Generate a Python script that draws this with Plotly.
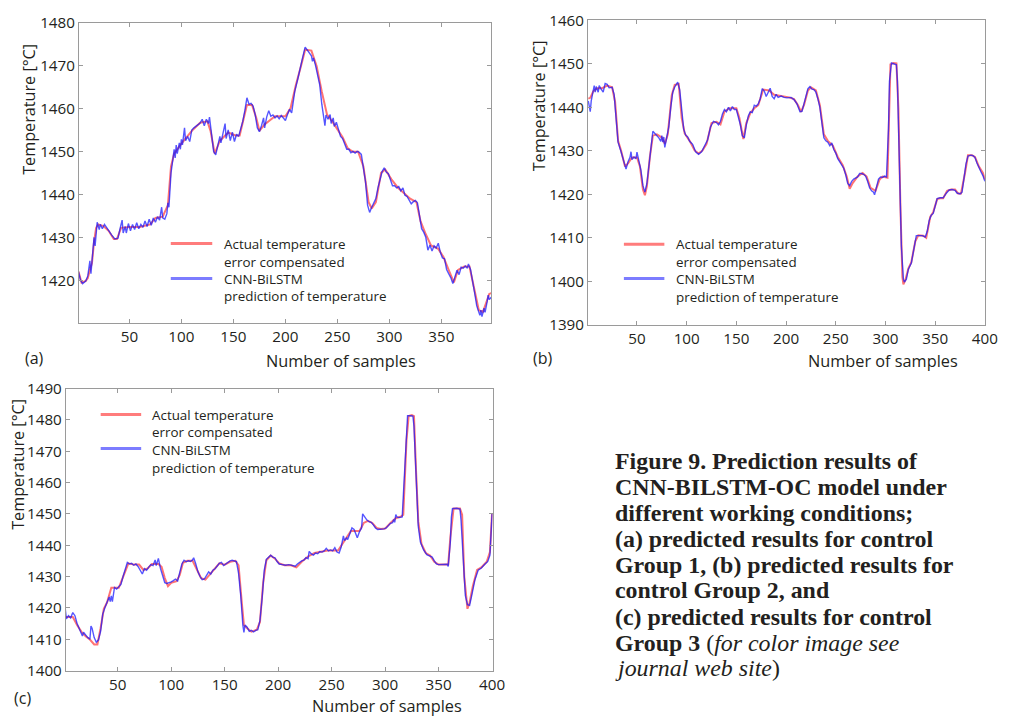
import plotly.graph_objects as go

# ---------------- data ----------------
# Panel (a): control group 1
a_actual = [(1,1422.0),(4,1419.4),(8,1419.8),(10,1420.5),(12,1422.4),(14,1424),(16,1429),(18,1432.2),(20,1433),(25,1432.6),
            (30,1431.5),(35,1429.6),(38,1429.6),(42,1432.2),(50,1432.4),(60,1432.4),(70,1433),(75,1434.5),(82,1434.8),(87,1437.5),
            (90,1446.5),(93,1449.5),(100,1451.8),(110,1454.8),(118,1456.7),(125,1457),(128,1454.8),(132,1449.5),(137,1452.5),(145,1454.4),
            (152,1453.7),(156,1453.7),(160,1457.8),(163,1460.8),(168,1460.8),(172,1457.8),(175,1454.8),(180,1456.3),(190,1458.2),(200,1458.2),
            (205,1460.1),(210,1465.4),(215,1469.9),(219,1473.7),(225,1473.5),(230,1469.9),(235,1463.9),(240,1458.6),(245,1457),(250,1455.2),
            (255,1453.3),(260,1450.7),(265,1449.9),(270,1449.9),(275,1446.5),(280,1438.2),(283,1436.7),(287,1438.2),(292,1445),(296,1445.8),
            (302,1443.5),(308,1441.6),(315,1440.1),(320,1439),(326,1438.2),(330,1433.7),(335,1430.7),(340,1428.1),(347,1427.3),(352,1425.4),
            (357,1422.4),(362,1419.5),(366,1422.4),(372,1423.2),(377,1423.2),(382,1417.9),(386,1413),(390,1412.6),(393,1414.9),(396,1416.8),(398,1417)]
a_predicted = [(1,1422),(3,1420),(5,1419.2),(8,1419.8),(10,1421),(12,1424.5),(13,1421.5),(14,1425),(15,1427),(16,1430),(17,1428),(18,1432),
               (19,1433.5),(21,1431.8),(22,1433),(24,1432),(26,1433),(28,1432.3),(30,1431.5),(33,1430.5),(36,1429.6),(39,1429.8),(41,1432),
               (43,1434),(44,1431),(46,1432.5),(47,1431),(49,1433.2),(51,1431.5),(53,1433),(55,1431.8),(57,1433.4),(59,1432),(61,1433),
               (63,1432.3),(65,1433.8),(67,1432.5),(69,1434.2),(71,1432.8),(73,1434.5),(75,1433.5),(77,1434.8),(79,1434),(80,1435.5),
               (81,1437),(82,1434.5),(84,1434.2),(86,1435.5),(87,1438),(88,1437),(90,1445),(92,1448.5),(93,1450.5),(94,1448.5),
               (95,1451.5),(96,1449.5),(98,1452),(99,1450.5),(100,1452.8),(101,1451.5),(103,1455.5),(104,1452.5),(106,1453.5),(108,1452.3),
               (110,1455),(112,1455.5),(115,1456),(118,1456.6),(120,1457.5),(122,1456),(124,1457.5),(126,1456.5),(127,1458),(129,1454),
               (131,1450),(133,1449.2),(135,1451.5),(137,1453.5),(138,1452),(140,1454.5),(142,1456.5),(143,1453),(145,1455),(147,1452.5),
               (149,1454.5),(151,1452.3),(153,1454),(155,1453.5),(157,1455),(159,1457),(161,1459.5),(163,1462.5),(165,1461),(167,1461.2),
               (169,1460.5),(171,1458.5),(173,1455.5),(175,1454.6),(177,1456),(179,1457.8),(180,1455.5),(182,1458),(184,1459.5),(186,1458.2),
               (188,1458.5),(190,1457.8),(192,1458.3),(194,1457.6),(196,1458.4),(198,1457.8),(200,1457.2),(202,1458.6),(204,1459.8),(206,1459),
               (207,1460.8),(209,1464),(212,1467),(215,1470.5),(217,1472.3),(219,1474.3),(221,1473.6),(223,1473),(225,1472.3),(226,1471),
               (227,1471.8),(229,1470),(231,1468),(233,1465.5),(235,1461),(237,1457),(238,1456),(239,1458.5),(241,1457.5),(243,1458.6),
               (244,1456.5),(246,1457.8),(247,1455.8),(249,1456.8),(251,1455),(253,1453.5),(255,1453),(257,1451.5),(259,1450.5),(261,1450.5),
               (263,1449.7),(265,1450),(267,1449.6),(269,1450),(271,1449.8),(273,1449.3),(275,1446.5),(277,1443),(279,1437.5),(281,1435.8),
               (283,1437),(285,1438),(287,1439),(289,1441.5),(291,1443.5),(293,1445.3),(295,1446.2),(297,1445.2),(299,1444.8),(301,1443.5),
               (303,1442),(305,1442),(307,1441.5),(309,1441.8),(311,1440.8),(313,1441.5),(315,1439.8),(317,1439.5),(319,1438.5),(321,1437.8),
               (323,1438.3),(325,1438.6),(327,1438),(329,1435),(331,1432),(333,1431.2),(335,1430),(337,1427),(339,1428.2),(341,1426.8),
               (343,1428),(345,1427.5),(347,1428.6),(349,1426.5),(351,1425.2),(353,1425),(355,1422.5),(357,1421.5),(359,1420.6),(361,1419.2),
               (363,1420.5),(365,1422.3),(367,1421.3),(369,1423),(371,1422.8),(373,1423.3),(375,1422.8),(376,1423.8),(378,1422.5),(380,1420),
               (382,1417),(384,1414),(386,1412.7),(387,1411.8),(388,1413),(389,1411.5),(391,1413.5),(392,1412.5),(394,1415),(395,1416.5),
               (396,1415.5),(398,1416)]

# Panel (b): control group 2
b_actual = [(1,1442.0),(3,1442.2),(6,1443.7),(10,1444.4),(15,1444.4),(20,1445),(25,1444.6),(28,1441.3),(31,1432.3),(34,1430.1),
            (38,1426.4),(41,1427.1),(45,1428.5),(50,1428.5),(53,1426.4),(56,1421.1),(58,1419.8),(60,1421.9),(63,1428.6),(66,1433.5),
            (70,1433.8),(75,1433.1),(78,1431.6),(81,1433.8),(85,1442.8),(88,1445.2),(92,1445.4),(95,1437.6),(98,1434),(103,1432.3),
            (108,1430.1),(112,1429.4),(116,1430.1),(120,1431.6),(125,1436.4),(130,1436.7),(134,1436.1),(138,1439),(143,1439.8),(150,1439.8),
            (153,1437.6),(157,1432.7),(160,1436.4),(164,1438.7),(168,1439.8),(172,1440.5),(177,1444.1),(183,1443.9),(188,1442.9),(195,1442.6),
            (203,1442.3),(208,1441.9),(212,1440.5),(215,1439),(218,1440.5),(222,1443.9),(225,1444.6),(230,1443.9),(234,1440.5),(238,1433.8),
            (242,1432.3),(247,1431.2),(252,1428.6),(257,1426.7),(261,1424.1),(264,1421.3),(267,1422.6),(272,1424.1),(277,1424.9),(281,1424.1),
            (285,1421.5),(290,1420.8),(294,1423.4),(297,1424.1),(302,1423.8),(305,1449.9),(308,1450.2),(311,1450.1),(313,1439.8),(315,1417.4),
            (317,1401),(318,1399.3),(320,1400.3),(323,1402.9),(326,1404.4),(330,1409.2),(333,1410.6),(338,1410.5),(341,1410),(345,1414.8),
            (348,1415.9),(352,1418.9),(355,1419.1),(358,1419.1),(362,1420.8),(366,1421.1),(370,1421.1),(373,1420.2),(376,1420.2),(380,1424.9),
            (383,1429),(387,1429),(390,1428.6),(394,1426.4),(398,1424.9),(400,1423.4)]
b_predicted = [(1,1441.5),(2,1439.5),(3,1439),(4,1441.5),(6,1443.8),(7,1445),(8,1443.5),(9,1444.8),(11,1443.5),(12,1445),(14,1444.2),
               (16,1443.5),(18,1445.5),(20,1445.3),(22,1444.5),(25,1444.6),(27,1443),(29,1438),(31,1432),(34,1429.8),(37,1427),(39,1425.8),
               (41,1427.5),(43,1428.5),(44,1429.8),(45,1428),(47,1428.6),(49,1428.2),(50,1429.7),(52,1427.8),(54,1425.5),(56,1422),(58,1420.5),
               (60,1422.5),(62,1427),(64,1431),(66,1434.5),(68,1434),(70,1433.5),(72,1433),(74,1432.2),(75,1433.5),(76,1432),(77,1433.2),
               (78,1430.8),(80,1433),(82,1435.5),(84,1440),(86,1443.5),(88,1444.7),(90,1445.5),(91,1445.8),(93,1444),(95,1439.5),(97,1435),
               (99,1433.6),(101,1433.2),(103,1432.2),(106,1431.5),(109,1429.8),(112,1429.2),(115,1429.8),(118,1431),(121,1432.5),(124,1435.5),
               (127,1436.8),(130,1436.5),(132,1436),(134,1436.8),(136,1438.5),(138,1439.5),(140,1439),(142,1440),(144,1439.2),(146,1440.2),
               (148,1439.5),(150,1439.5),(152,1438),(154,1436),(156,1433.5),(158,1433),(160,1436),(162,1438),(164,1439),(166,1438.8),
               (168,1440.5),(170,1440.3),(172,1440.8),(174,1442),(176,1444.3),(178,1443.8),(180,1442.5),(182,1443.5),(184,1444.4),(186,1442.5),
               (188,1442),(190,1443),(192,1442.3),(195,1442.6),(198,1442.3),(201,1442.2),(205,1442.3),(208,1441.8),(211,1440.8),(214,1439),
               (216,1439.1),(218,1440.8),(220,1442.5),(222,1444.3),(224,1444.8),(226,1444.2),(228,1444.1),(230,1443.5),(232,1442),(234,1440),
               (236,1436.5),(238,1433),(240,1432.3),(242,1432),(244,1431.2),(246,1431.8),(248,1430.3),(250,1429.5),(252,1428.2),(254,1427.5),
               (256,1427),(258,1426),(260,1424.5),(262,1422.5),(264,1422),(266,1423),(268,1423.5),(270,1423.8),(272,1424),(274,1424.8),
               (276,1424.8),(278,1424.6),(280,1424.2),(282,1423),(284,1421.5),(286,1420.8),(288,1420.5),(289,1419.9),(291,1421.5),(293,1423.5),
               (295,1424),(297,1423.9),(299,1424.2),(301,1424),(303,1435),(304,1446),(306,1450.2),(308,1450.1),(311,1449.8),(312,1446),
               (314,1428),(316,1408),(318,1400.5),(319,1399.8),(321,1400.5),(323,1402.8),(326,1404.2),(329,1408),(331,1410.5),(334,1410.5),
               (337,1410.5),(340,1410.2),(342,1411.5),(344,1414),(346,1415.2),(348,1415.6),(350,1417.5),(352,1419),(355,1419.2),(358,1419.2),
               (361,1420.2),(364,1421),(367,1421.1),(370,1420.9),(372,1420.3),(375,1420.1),(377,1420.5),(379,1423.5),(381,1427),(383,1428.8),
               (386,1429),(388,1428.9),(390,1428.5),(392,1427.2),(394,1426),(396,1425.2),(398,1424.3),(400,1423)]

# Panel (c): control group 3
c_actual = [(1,1417.1),(5,1417.1),(8,1417.1),(12,1414.5),(16,1412.4),(20,1410.9),(24,1409.9),(28,1408.3),(31,1408.3),(34,1413.5),
            (37,1419.7),(40,1421.7),(44,1426.4),(48,1426.4),(51,1426.4),(54,1429),(57,1431.6),(60,1434.2),(65,1433.8),(70,1433.8),
            (74,1432.1),(78,1432.6),(82,1434),(88,1434),(91,1433.1),(94,1429.5),(97,1426.9),(100,1428),(105,1428.5),(108,1430.5),
            (111,1434.4),(115,1435),(120,1435),(124,1432.1),(128,1429.5),(132,1429),(136,1430.5),(140,1432.1),(145,1434.2),(150,1433.8),
            (155,1434.7),(160,1435),(163,1433.6),(166,1421.7),(168,1414.5),(171,1413.5),(175,1412.4),(180,1413),(183,1415.5),(186,1428),
            (189,1435.2),(193,1436.7),(197,1435.7),(201,1434.2),(206,1433.6),(212,1433.6),(217,1432.9),(222,1434.7),(228,1436.4),(234,1437.5),
            (240,1437.8),(246,1438.3),(252,1438.3),(256,1438.3),(260,1440.4),(264,1442.4),(268,1444.5),(272,1444.5),(276,1444.5),(280,1447.1),
            (284,1447.8),(288,1447.1),(292,1445.5),(296,1445.2),(300,1445.3),(305,1447.1),(310,1448.6),(315,1449.2),(317,1449.7),(320,1473.5),
            (322,1481.2),(325,1481.5),(327,1481.2),(329,1463.1),(331,1447.6),(334,1440.4),(338,1437.5),(342,1436.7),(346,1434.7),(350,1433.8),
            (355,1433.8),(359,1433.8),(361,1442.4),(364,1451.7),(370,1451.7),(372,1449.7),(374,1430),(377,1419.7),(379,1421.7),(382,1426.9),
            (386,1432.1),(390,1432.9),(395,1434.7),(398,1437.8),(400,1450.2)]
c_predicted = [(1,1419.5),(2,1416.5),(4,1417.5),(6,1416.8),(8,1418.5),(10,1417.5),(12,1415),(14,1413.5),(16,1412),(17,1411),(18,1412.2),
               (20,1411.2),(22,1410.5),(24,1410),(25,1414.2),(26,1413.5),(28,1410.5),(30,1409),(32,1409.8),(34,1412.5),(36,1418),(38,1420),
               (40,1421.5),(42,1423.5),(43,1422),(44,1423.8),(45,1422),(47,1426.5),(49,1426),(51,1426.8),(53,1427.5),(55,1430),(57,1432),
               (59,1434.5),(61,1434),(63,1434.2),(65,1433.6),(67,1434),(69,1433.2),(71,1431.8),(73,1430.8),(75,1432.5),(77,1432),(79,1433),
               (81,1433.8),(83,1433.5),(85,1435.3),(86,1433.5),(88,1435.8),(90,1432.5),(92,1430),(94,1428),(96,1427.8),(98,1428),(100,1428.3),
               (102,1428.7),(104,1429.2),(106,1428.6),(108,1431),(110,1434),(112,1435.2),(114,1434.7),(116,1435),(118,1434.8),(120,1435.3),
               (121,1436),(123,1434),(125,1431.5),(127,1430),(129,1429),(131,1429.2),(133,1430.5),(135,1431.5),(137,1430.8),(139,1432),
               (141,1432.5),(143,1433.5),(145,1434.2),(147,1434.5),(149,1433.5),(151,1434),(153,1434.5),(155,1435),(157,1435.2),(159,1435.1),
               (161,1434.8),(163,1431),(165,1424),(167,1414.5),(168,1412.2),(169,1414.5),(171,1413.8),(173,1412.5),(175,1412.8),(177,1412.3),
               (179,1412.8),(181,1413),(183,1416),(185,1423),(187,1432),(189,1435.5),(191,1436.2),(193,1436.8),(195,1436.2),(197,1436),
               (199,1434.8),(201,1434),(204,1433.8),(207,1433.6),(210,1433.8),(213,1433.5),(216,1433.3),(218,1434),(220,1434.5),(222,1435),
               (224,1435.2),(226,1436),(228,1435.7),(229,1438),(231,1437.2),(233,1436.8),(235,1437.5),(237,1437.3),(239,1438),(241,1437.8),
               (243,1438.2),(245,1439),(247,1438.2),(249,1438.5),(251,1438.2),(253,1439.2),(255,1437.8),(257,1437.5),(259,1439.5),(261,1443),
               (262,1441.5),(264,1442.3),(265,1441.8),(267,1443.5),(269,1445.5),(271,1445),(273,1443),(274,1442.4),(276,1444.3),(278,1445.5),
               (279,1450),(281,1449),(283,1448),(285,1447.5),(287,1447.3),(289,1446.5),(291,1445.5),(293,1445),(295,1445),(297,1445.2),
               (299,1445.2),(301,1445.5),(303,1446.2),(305,1447),(307,1447.2),(308,1448.2),(309,1447.3),(310,1449.8),(311,1449),(313,1448.8),
               (316,1449),(318,1462),(320,1476),(321,1481.3),(324,1481.3),(326,1481.2),(327,1478),(329,1460),(331,1446),(333,1441),
               (336,1438.5),(339,1437),(342,1436.6),(344,1436.2),(346,1435),(348,1434),(350,1433.8),(354,1433.8),(358,1433.9),(359,1433.2),
               (361,1441),(362,1449),(363,1451.7),(367,1451.8),(370,1451.5),(371,1448),(373,1435),(375,1424),(377,1421),(379,1420.8),
               (381,1424),(384,1429),(387,1432),(390,1432.7),(393,1433.8),(396,1434.8),(398,1436.8),(399,1443),(400,1450)]

a_yticks = [1420, 1430, 1440, 1450, 1460, 1470, 1480]
b_yticks = [1390, 1400, 1410, 1420, 1430, 1440, 1450, 1460]
c_yticks = [1400, 1410, 1420, 1430, 1440, 1450, 1460, 1470, 1480, 1490]
a_xticks = [50, 100, 150, 200, 250, 300, 350]
bc_xticks = [50, 100, 150, 200, 250, 300, 350, 400]

legend_texts = ["Actual temperature", "error compensated", "CNN-BiLSTM", "prediction of temperature"]
caption_lines = [
    "<b>Figure 9. Prediction results of</b>",
    "<b>CNN-BILSTM-OC model under</b>",
    "<b>different working conditions;</b>",
    "<b>(a) predicted results for control</b>",
    "<b>Group 1, (b) predicted results for</b>",
    "<b>control Group 2, and</b>",
    "<b>(c) predicted results for control</b>",
    "<b>Group 3</b> (<i>for color image see</i>",
    "<i>journal web site</i>)",
]

# ---------------- layout helpers ----------------
W, H = 1013, 722
def fx(p):
    return p / W
def fy(p):
    return 1 - p / H

RED = "rgba(255,40,40,0.65)"
BLUE = "rgba(20,20,255,0.72)"
TXT = "#231f20"
AX = "#9a9a9a"
SANS = "Open Sans"

fig = go.Figure()

panels = [
    dict(key="", act=a_actual, pred=a_predicted, xpx=(80, 497.7), ypx=(12, 321),
         xr=[1.5, 398], yr=[1410, 1480], xt=a_xticks, yt=a_yticks,
         leg=dict(lx=(173, 215), ly=(239, 275), tx=225, ty=[240, 258, 276, 293]),
         lab=("(a)", 35, 357), xtitle=(345, 359.5), ytitle=(30, 101)),
    dict(key="2", act=b_actual, pred=b_predicted, xpx=(595.7, 997.7), ypx=(9.7, 322.7),
         xr=[0.8, 400], yr=[1390, 1460], xt=bc_xticks, yt=b_yticks,
         leg=dict(lx=(632, 673), ly=(240, 275), tx=683, ty=[240, 258, 276, 294]),
         lab=("(b)", 550, 357), xtitle=(894, 360), ytitle=(546, 97)),
    dict(key="3", act=c_actual, pred=c_predicted, xpx=(66.7, 499), ypx=(388.3, 678.3),
         xr=[1.5, 400.5], yr=[1400, 1490], xt=bc_xticks, yt=c_yticks,
         leg=dict(lx=(102, 143), ly=(415, 450), tx=152, ty=[416, 433, 452, 470]),
         lab=("(c)", 23, 707), xtitle=(392, 714.5), ytitle=(18, 466)),
]

layout_axes = {}
annotations = []
shapes = []
for p in panels:
    k = p["key"]
    xa, ya = "x" + k, "y" + k
    fig.add_trace(go.Scatter(x=[v[0] for v in p["act"]], y=[v[1] for v in p["act"]], mode="lines",
                             line=dict(color=RED, width=2.0), xaxis=xa, yaxis=ya, showlegend=False,
                             name="Actual temperature error compensated"))
    fig.add_trace(go.Scatter(x=[v[0] for v in p["pred"]], y=[v[1] for v in p["pred"]], mode="lines",
                             line=dict(color=BLUE, width=1.4), xaxis=xa, yaxis=ya, showlegend=False,
                             name="CNN-BiLSTM prediction of temperature"))
    common = dict(showline=True, mirror="ticks", linecolor=AX, linewidth=1, ticks="inside", ticklen=4,
                  tickcolor=AX, tickwidth=1, showgrid=False, zeroline=False,
                  tickfont=dict(family=SANS, size=15.2, color=TXT))
    layout_axes["xaxis" + k] = dict(domain=[fx(p["xpx"][0]), fx(p["xpx"][1])], range=p["xr"],
                                    tickvals=p["xt"], anchor=ya, **common)
    layout_axes["yaxis" + k] = dict(domain=[fy(p["ypx"][1]), fy(p["ypx"][0])], range=p["yr"],
                                    tickvals=p["yt"], anchor=xa, **common)
    lg = p["leg"]
    for yy, col in zip(lg["ly"], ["rgba(255,80,80,0.75)", "rgba(80,80,255,0.75)"]):
        shapes.append(dict(type="line", xref="paper", yref="paper", x0=fx(lg["lx"][0]), x1=fx(lg["lx"][1]),
                           y0=fy(yy), y1=fy(yy), line=dict(color=col, width=3)))
    for t, yy in zip(legend_texts, lg["ty"]):
        annotations.append(dict(text=t, xref="paper", yref="paper", x=fx(lg["tx"]), y=fy(yy),
                                xanchor="left", yanchor="middle", showarrow=False,
                                font=dict(family=SANS, size=13.4, color=TXT)))
    annotations.append(dict(text=p["lab"][0], xref="paper", yref="paper", x=fx(p["lab"][1]), y=fy(p["lab"][2]),
                            xanchor="center", yanchor="middle", showarrow=False,
                            font=dict(family=SANS, size=16, color=TXT)))
    annotations.append(dict(text="Number of samples", xref="paper", yref="paper", x=fx(p["xtitle"][0]),
                            y=fy(p["xtitle"][1]), xanchor="center", yanchor="middle", showarrow=False,
                            font=dict(family=SANS, size=16.3, color=TXT)))
    annotations.append(dict(text="Temperature [°C]", xref="paper", yref="paper", x=fx(p["ytitle"][0]),
                            y=fy(p["ytitle"][1]), xanchor="center", yanchor="middle", textangle=-90,
                            showarrow=False, font=dict(family=SANS, size=16.2, color=TXT)))

cap_y = [463, 490, 516, 543, 570, 596, 623, 650, 676]
for t, yy in zip(caption_lines, cap_y):
    annotations.append(dict(text=t, xref="paper", yref="paper", x=fx(621), y=fy(yy), xanchor="left",
                            yanchor="middle", showarrow=False,
                            font=dict(family="Liberation Serif", size=23.9, color=TXT)))

fig.update_layout(width=W, height=H, margin=dict(l=0, r=0, t=0, b=0), paper_bgcolor="white",
                  plot_bgcolor="white", showlegend=False, annotations=annotations, shapes=shapes,
                  **layout_axes)

fig.write_html("out.html")
